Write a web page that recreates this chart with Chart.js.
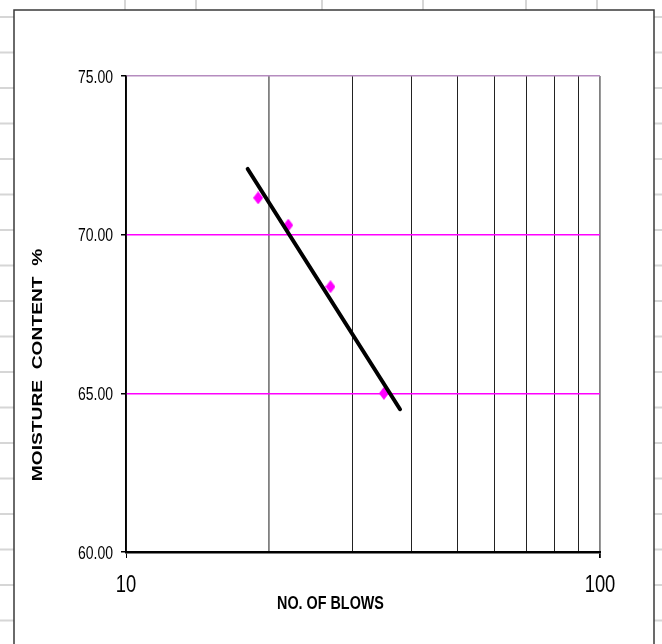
<!DOCTYPE html>
<html>
<head>
<meta charset="utf-8">
<script src="https://cdn.jsdelivr.net/npm/chart.js@4/dist/chart.umd.min.js"></script>
<style>
  html, body { margin: 0; padding: 0; background: #fff; }
  #wrap { width: 662px; height: 644px; }
</style>
</head>
<body>
<div id="wrap"><canvas id="chart" width="662" height="644"></canvas></div>
<script>
// test points (blows, moisture %)
const blows = [19, 22, 27, 35];
const moisture = [71.16, 70.3, 68.36, 65.0];

// ends of the drawn flow line
const lineBlows = [18.06, 37.85];
const lineMoisture = [72.07, 64.5];

const xTicks = [10, 20, 30, 40, 50, 60, 70, 80, 90, 100];
const xLabels = [10, 100];
const yTicks = [60, 65, 70, 75];

const sans = '"Liberation Sans", Arial, sans-serif';

// magenta diamond marker, a bit taller than wide like the original
const diamond = document.createElement("canvas");
diamond.width = 10;
diamond.height = 13;
(function () {
  const c = diamond.getContext("2d");
  c.fillStyle = "#ff00ff";
  c.beginPath();
  c.moveTo(5, 0);
  c.lineTo(10, 6.5);
  c.lineTo(5, 13);
  c.lineTo(0, 6.5);
  c.closePath();
  c.fill();
})();

// narrow text: no condensed face installed, so squeeze Liberation Sans
function narrowText(ctx, text, x, y, font, align, sx) {
  ctx.save();
  ctx.translate(x, y);
  ctx.scale(sx, 1);
  ctx.font = font;
  ctx.textAlign = align;
  ctx.textBaseline = "alphabetic";
  ctx.fillText(text, 0, 0);
  ctx.restore();
}

// sheet grid behind the chart object, the frame, labels and titles
const sheetPlugin = {
  id: "sheet",
  beforeDraw(chart) {
    const ctx = chart.ctx;
    ctx.save();
    ctx.fillStyle = "#fff";
    ctx.fillRect(0, 0, chart.width, chart.height);
    ctx.strokeStyle = "#d6d6d6";
    ctx.lineWidth = 2;
    for (let y = 17; y < chart.height; y += 35.5) {
      ctx.beginPath();
      ctx.moveTo(0, y);
      ctx.lineTo(chart.width, y);
      ctx.stroke();
    }
    [125, 196, 322, 423, 526, 597].forEach((x) => {
      ctx.beginPath();
      ctx.moveTo(x, 0);
      ctx.lineTo(x, 12);
      ctx.stroke();
    });
    ctx.fillStyle = "#fff";
    ctx.fillRect(14, 10, 640, 640);
    ctx.strokeStyle = "#3a3a3a";
    ctx.lineWidth = 1.5;
    ctx.strokeRect(14, 10, 640, 640);
    ctx.restore();
  },
  afterDraw(chart) {
    const ctx = chart.ctx;
    const xs = chart.scales.x;
    const ys = chart.scales.y;
    ctx.save();
    ctx.fillStyle = "#000";
    yTicks.forEach((v) => {
      narrowText(ctx, v.toFixed(2), ys.right - 13, ys.getPixelForValue(v) + 6.5, "17.5px " + sans, "right", 0.8);
    });
    xLabels.forEach((v) => {
      narrowText(ctx, String(v), xs.getPixelForValue(v), xs.top + 40, "23px " + sans, "center", 0.8);
    });
    // x axis title
    narrowText(ctx, "NO. OF BLOWS", 330.5, 609, "bold 17.5px " + sans, "center", 0.82);
    // y axis title, stretched wide like the original
    ctx.translate(38, 365);
    ctx.rotate(-Math.PI / 2);
    ctx.scale(1.28, 1);
    ctx.font = "bold 15px " + sans;
    ctx.textAlign = "center";
    ctx.textBaseline = "middle";
    ctx.fillText("MOISTURE  CONTENT  %", 0, 0);
    ctx.restore();
  },
};

const points = blows.map((b, i) => ({ x: b, y: moisture[i] }));
const flowLine = lineBlows.map((b, i) => ({ x: b, y: lineMoisture[i] }));

new Chart(document.getElementById("chart"), {
  type: "scatter",
  data: {
    datasets: [
      {
        label: "Tests",
        data: points,
        pointStyle: diamond,
        pointRadius: 5,
        order: 2,
      },
      {
        label: "Flow line",
        type: "line",
        data: flowLine,
        borderColor: "#000",
        borderWidth: 4,
        borderCapStyle: "round",
        pointRadius: 0,
        fill: false,
        order: 1,
      },
    ],
  },
  plugins: [sheetPlugin],
  options: {
    responsive: false,
    animation: false,
    layout: { padding: { left: 0, top: 76, right: 62, bottom: 0 } },
    plugins: {
      legend: { display: false },
      tooltip: { enabled: false },
    },
    scales: {
      x: {
        type: "logarithmic",
        min: 10,
        max: 100,
        afterBuildTicks: (scale) => {
          scale.ticks = xTicks.map((v) => ({ value: v, major: v === 10 || v === 100 }));
        },
        afterFit: (scale) => {
          scale.height = 92;
        },
        border: { color: "#000", width: 2.5 },
        grid: {
          color: (ctx) => (ctx.tick && (ctx.tick.value === 20 || ctx.tick.value === 100) ? "#808080" : "#222"),
          lineWidth: (ctx) => (ctx.tick && (ctx.tick.value === 20 || ctx.tick.value === 100) ? 1.8 : 1),
          tickColor: (ctx) => (ctx.tick && xLabels.includes(ctx.tick.value) ? "#000" : "rgba(0,0,0,0)"),
          tickLength: 6,
        },
        ticks: { display: false, autoSkip: false },
      },
      y: {
        min: 60,
        max: 75,
        afterBuildTicks: (scale) => {
          scale.ticks = yTicks.map((v) => ({ value: v }));
        },
        afterFit: (scale) => {
          scale.width = 126;
        },
        border: { color: "#000", width: 1.5 },
        grid: {
          color: (ctx) => {
            const v = ctx.tick ? ctx.tick.value : 0;
            if (v === 75) return "#b58cbf";
            if (v === 60) return "#000";
            return "#ff00ff";
          },
          lineWidth: 1.5,
          tickColor: "#000",
          tickLength: 5,
        },
        ticks: { display: false },
      },
    },
  },
});
</script>
</body>
</html>
